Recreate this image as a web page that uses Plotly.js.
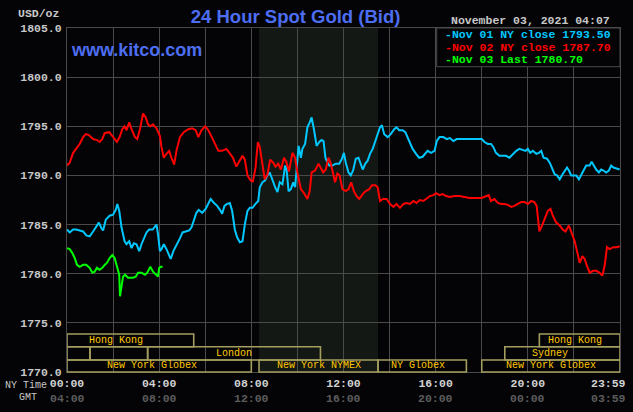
<!DOCTYPE html>
<html><head><meta charset="utf-8">
<script src="https://cdn.plot.ly/plotly-3.0.1.min.js"></script>
<style>html,body{margin:0;padding:0;background:#040407;}#chart{width:633px;height:412px;}</style>
</head><body><div id="chart"></div>
<script>
// Minutes after midnight (NY time) and bid prices, USD/oz
const nov01Min = [0,7,16,24,33,42,50,59,68,77,83,90,94,101,111,120,127,131,136,142,150,155,162,168,174,181,188,194,200,207,214,223,229,233,237,242,246,252,259,263,270,277,285,294,301,310,318,324,330,337,343,352,361,368,374,383,391,400,404,410,417,424,430,437,443,450,457,463,470,476,483,491,498,502,509,516,522,528,535,542,548,554,561,568,572,577,583,589,594,597,603,609,613,620,626,632,637,643,650,657,663,668,673,676,683,691,700,709,716,721,726,733,739,745,752,759,765,770,777,783,789,796,803,809,815,820,826,835,843,852,858,865,874,881,887,893,900,909,917,926,933,939,948,957,963,970,980,989,997,1006,1015,1026,1039,1048,1080,1087,1096,1104,1110,1117,1126,1135,1143,1152,1161,1170,1178,1187,1194,1200,1206,1213,1222,1229,1235,1241,1250,1257,1263,1270,1276,1283,1290,1296,1302,1307,1313,1320,1326,1333,1339,1345,1352,1361,1366,1371,1378,1385,1391,1397,1404,1411,1417,1423,1430,1439];
const nov01Val = [1784.5,1784.2,1784.5,1784.5,1784.4,1784.3,1783.9,1783.8,1784.3,1784.9,1785.2,1784.6,1784.4,1785.5,1785.9,1786.0,1786.5,1787.1,1786.4,1784.7,1783.3,1783.0,1783.3,1782.6,1783.1,1783.0,1782.3,1783.0,1783.5,1784.2,1784.5,1784.5,1784.8,1785.0,1784.0,1782.3,1782.5,1783.0,1782.5,1782.1,1781.5,1782.3,1783.0,1783.6,1784.2,1784.3,1784.4,1784.7,1785.4,1786.2,1786.5,1786.2,1786.6,1787.2,1787.6,1787.2,1786.9,1786.4,1786.1,1786.9,1787.1,1787.2,1786.4,1784.5,1783.7,1783.2,1783.3,1785.0,1786.4,1786.7,1786.7,1787.1,1787.4,1788.8,1789.3,1789.5,1790.0,1790.3,1789.5,1788.8,1788.3,1789.3,1789.1,1791.0,1790.5,1788.4,1788.6,1789.3,1788.8,1790.5,1793.0,1791.8,1792.7,1793.2,1794.9,1795.4,1795.9,1794.7,1793.0,1793.4,1793.6,1793.5,1791.8,1791.5,1791.0,1791.0,1791.2,1791.2,1791.7,1792.3,1791.3,1790.3,1790.0,1790.5,1791.7,1791.8,1791.2,1790.6,1791.2,1791.5,1792.2,1792.7,1793.5,1794.2,1794.9,1795.1,1794.2,1793.9,1794.2,1794.7,1794.9,1794.6,1794.6,1794.4,1793.9,1793.4,1792.7,1792.2,1791.8,1791.9,1792.2,1792.5,1792.3,1792.5,1793.5,1793.9,1793.9,1793.7,1793.8,1793.5,1793.7,1793.7,1793.7,1793.7,1793.7,1793.4,1793.2,1793.2,1792.9,1792.3,1792.0,1792.0,1792.0,1791.8,1792.2,1792.5,1792.7,1792.6,1792.5,1792.7,1792.3,1792.5,1792.2,1792.3,1792.5,1791.8,1791.7,1791.3,1790.8,1790.1,1790.0,1789.6,1790.1,1790.5,1790.8,1790.5,1790.0,1790.0,1790.0,1789.6,1790.1,1790.5,1791.0,1791.0,1791.4,1791.0,1790.6,1790.3,1790.6,1790.5,1790.3,1790.5,1791.0,1790.8,1790.7,1790.6];

const nov02Min = [0,7,16,24,33,42,49,57,68,78,85,92,98,110,118,124,130,137,144,150,155,162,168,177,183,190,198,205,211,217,224,233,242,246,252,259,266,272,279,285,294,304,316,326,335,342,350,360,368,377,385,394,404,415,423,432,441,448,457,463,470,478,484,491,497,502,509,515,522,529,537,543,550,557,565,571,578,587,594,600,609,617,626,632,637,646,655,661,667,674,681,687,693,698,704,710,717,726,733,740,747,754,761,770,778,787,794,803,809,815,823,832,841,850,858,867,876,884,893,902,910,919,928,937,945,954,961,970,978,987,997,1009,1022,1035,1048,1080,1091,1098,1104,1113,1122,1130,1139,1148,1157,1165,1174,1183,1191,1200,1209,1217,1223,1227,1230,1237,1246,1252,1259,1265,1274,1283,1291,1298,1307,1313,1322,1328,1335,1342,1348,1354,1361,1370,1378,1387,1394,1400,1406,1413,1423,1432,1439];
const nov02Val = [1791.0,1791.3,1792.3,1792.7,1793.2,1793.9,1794.2,1794.1,1793.7,1793.6,1793.4,1793.7,1794.3,1794.4,1794.0,1793.6,1793.4,1793.9,1794.7,1795.0,1794.6,1795.4,1794.7,1793.9,1793.7,1794.7,1796.3,1795.9,1795.2,1795.0,1795.2,1794.8,1794.0,1792.9,1791.8,1792.2,1792.5,1791.8,1791.1,1792.5,1793.9,1794.4,1794.7,1794.8,1794.6,1793.9,1794.6,1795.0,1794.6,1793.9,1793.2,1792.5,1792.5,1792.7,1792.3,1791.8,1790.9,1791.4,1792.0,1791.6,1790.0,1789.5,1789.4,1790.8,1793.4,1792.9,1791.2,1789.6,1790.1,1791.6,1791.3,1790.9,1791.2,1790.6,1791.8,1791.4,1790.4,1792.3,1791.8,1790.3,1788.6,1788.2,1787.6,1788.4,1790.3,1790.5,1791.2,1790.8,1790.3,1790.6,1791.8,1791.2,1790.0,1789.3,1790.2,1790.0,1788.6,1788.4,1788.6,1789.3,1788.4,1787.9,1787.6,1788.1,1788.4,1788.6,1789.0,1789.0,1788.8,1787.4,1787.6,1787.6,1787.1,1786.8,1787.1,1786.7,1787.1,1787.2,1787.1,1787.4,1787.2,1787.5,1787.4,1787.7,1787.9,1788.0,1788.2,1788.0,1788.1,1787.9,1787.8,1787.9,1787.9,1787.8,1787.7,1787.7,1787.9,1788.0,1787.4,1787.6,1787.2,1787.1,1787.1,1787.0,1786.8,1786.9,1787.1,1787.3,1787.3,1787.1,1787.4,1787.3,1786.9,1785.7,1784.3,1784.9,1785.7,1786.4,1786.6,1785.9,1785.2,1784.9,1784.5,1784.3,1784.9,1784.2,1783.3,1782.3,1781.1,1781.8,1781.5,1780.8,1780.1,1780.3,1780.3,1780.1,1779.8,1780.8,1782.7,1782.5,1782.7,1782.7,1782.8];

const nov03Min = [0,7,14,20,26,33,42,50,59,66,72,78,85,92,98,104,111,118,124,130,136,138,142,146,151,159,165,172,179,185,194,203,209,214,217,224,231,237,240,244,249];
const nov03Val = [1782.6,1782.5,1782.1,1781.6,1780.9,1780.7,1780.9,1780.9,1780.6,1780.1,1780.2,1780.6,1780.4,1780.6,1780.9,1781.1,1781.6,1781.9,1781.6,1780.6,1779.9,1777.7,1778.9,1779.7,1779.9,1779.6,1779.6,1779.6,1779.7,1780.1,1780.1,1779.9,1780.1,1780.6,1780.7,1780.2,1779.9,1779.7,1780.6,1780.7,1780.7];

const legendLabels = ["Nov 01 NY close 1793.50", "Nov 02 NY close 1787.70", "Nov 03 Last 1780.70"];
const seriesColors = ["#00c8ff", "#ff0000", "#00ff00"];

const tickMinutes = [0,120,240,360,480,600,720,840,960,1080,1200,1320,1440];
const nyTimeLabels = ["00:00","","04:00","","08:00","","12:00","","16:00","","20:00","",""];
const endLabelAt = 1409;
const endNyLabel = "23:59";
const gmtTicks = [0,240,480,720,960,1200,1409];
const gmtLabels = ["04:00","08:00","12:00","16:00","20:00","00:00","03:59"];

// Trading sessions (minutes), row 0 = top row
const sessionNames = ["Hong Kong","Hong Kong","","","London","Sydney","New York Globex","New York NYMEX","NY Globex","New York Globex"];
const sessionStart = [0,1230,0,60,210,1140,0,500,810,1080];
const sessionEnd   = [330,1440,60,210,660,1440,480,810,1040,1440];
const sessionRow   = [0,0,1,1,1,1,2,2,2,2];
const sessionLabelAt = [128,1323,30,135,435,1259,221,655,913,1260];

const nymexStart = 500, nymexEnd = 810;

const rowTop = [0.1105, 0.0735, 0.0349];
const rowBot = [0.0735, 0.0349, 0.0];

const mono = "Liberation Mono, DejaVu Sans Mono, monospace";
const gridCol = "#4a4a4a";

const traces = [
  {x: nov01Min, y: nov01Val, mode: "lines", line: {color: seriesColors[0], width: 2}},
  {x: nov02Min, y: nov02Val, mode: "lines", line: {color: seriesColors[1], width: 2}},
  {x: nov03Min, y: nov03Val, mode: "lines", line: {color: seriesColors[2], width: 2}}
];

const shapes = [
  {type: "rect", xref: "x", yref: "paper", x0: nymexStart, x1: nymexEnd, y0: 0, y1: 1,
   fillcolor: "#141814", line: {width: 0}, layer: "below"},
  {type: "rect", xref: "paper", yref: "paper", x0: 0.6685, x1: 1, y0: 0.8875, y1: 1,
   fillcolor: "#040407", line: {color: gridCol, width: 1}, layer: "above"}
];
const annotations = [];
for (let i = 0; i < sessionNames.length; i++) {
  const r = sessionRow[i];
  shapes.push({type: "rect", xref: "x", yref: "paper", x0: sessionStart[i], x1: sessionEnd[i],
    y0: rowBot[r], y1: rowTop[r], line: {color: "#a39d5e", width: 1.6}, fillcolor: "rgba(0,0,0,0)", layer: "above"});
  if (sessionNames[i]) {
    annotations.push({xref: "x", yref: "paper", x: sessionLabelAt[i], y: (rowTop[r] + rowBot[r]) / 2,
      text: sessionNames[i], showarrow: false, xanchor: "center", yanchor: "middle",
      font: {family: mono, size: 10, color: "#ffc800"}});
  }
}
annotations.push({xref: "x", yref: "paper", x: endLabelAt, y: -0.0328, text: endNyLabel,
  showarrow: false, xanchor: "center", yanchor: "middle",
  font: {family: mono, size: 11.5, color: "#d2d2d2", weight: "bold"}});
for (let i = 0; i < gmtTicks.length; i++) {
  annotations.push({xref: "x", yref: "paper", x: gmtTicks[i], y: -0.0756, text: gmtLabels[i],
    showarrow: false, xanchor: "center", yanchor: "middle",
    font: {family: mono, size: 11.5, color: "#5c5c5c", weight: "bold"}});
}
for (let i = 0; i < legendLabels.length; i++) {
  annotations.push({xref: "paper", yref: "paper", x: 0.680, y: [0.9797, 0.9439, 0.9070][i],
    text: "-" + legendLabels[i], showarrow: false, xanchor: "left", yanchor: "middle",
    font: {family: mono, size: 11.5, color: seriesColors[i], weight: "bold"}});
}
annotations.push(
  {xref: "paper", yref: "paper", x: 0.6908, y: 1.0212, text: "November 03, 2021 04:07", showarrow: false,
   xanchor: "left", yanchor: "middle", font: {family: mono, size: 11.5, color: "#c8c8c8", weight: "bold"}},
  {xref: "paper", yref: "paper", x: -0.009, y: 1.0407, text: "USD/oz", showarrow: false,
   xanchor: "right", yanchor: "middle", font: {family: mono, size: 11.5, color: "#c8c8c8", weight: "bold"}},
  {xref: "paper", yref: "paper", x: 0.0036, y: 0.936, text: "www.kitco.com", showarrow: false,
   xanchor: "left", yanchor: "middle", font: {family: "Liberation Sans, Arial, sans-serif", size: 18, color: "#4d6ef2", weight: "bold"}},
  {xref: "paper", yref: "paper", x: -0.1157, y: -0.0378, text: "NY Time", showarrow: false,
   xanchor: "left", yanchor: "middle", font: {family: mono, size: 10, color: "#c8c8c8"}},
  {xref: "paper", yref: "paper", x: -0.0900, y: -0.0735, text: "GMT", showarrow: false,
   xanchor: "left", yanchor: "middle", font: {family: mono, size: 10, color: "#c8c8c8"}}
);

const layout = {
  width: 633, height: 412,
  margin: {l: 67, r: 13, t: 28, b: 40},
  paper_bgcolor: "#040407", plot_bgcolor: "#040407",
  showlegend: false,
  title: {text: "24 Hour Spot Gold (Bid)", xref: "container", x: 0.467, y: 0.961, xanchor: "center", yanchor: "middle",
    font: {family: "Liberation Sans, Arial, sans-serif", size: 18.5, color: "#4d6ef2", weight: "bold"}},
  xaxis: {range: [0, 1440], tickvals: tickMinutes, ticktext: nyTimeLabels, showgrid: true, gridcolor: gridCol, gridwidth: 1,
    zeroline: false, showline: true, mirror: true, linecolor: gridCol, linewidth: 1, ticks: "",
    tickfont: {family: mono, size: 11.5, color: "#d2d2d2", weight: "bold"}, fixedrange: true},
  yaxis: {range: [1770, 1805], dtick: 5, tick0: 1770, tickformat: ".1f", showgrid: true, gridcolor: gridCol, gridwidth: 1,
    zeroline: false, showline: true, mirror: true, linecolor: gridCol, linewidth: 1, ticks: "", ticklabelstandoff: 2,
    tickfont: {family: mono, size: 11.5, color: "#c8c8c8", weight: "bold"}, fixedrange: true},
  shapes: shapes,
  annotations: annotations
};

Plotly.newPlot("chart", traces, layout, {staticPlot: true, displayModeBar: false});
</script></body></html>
